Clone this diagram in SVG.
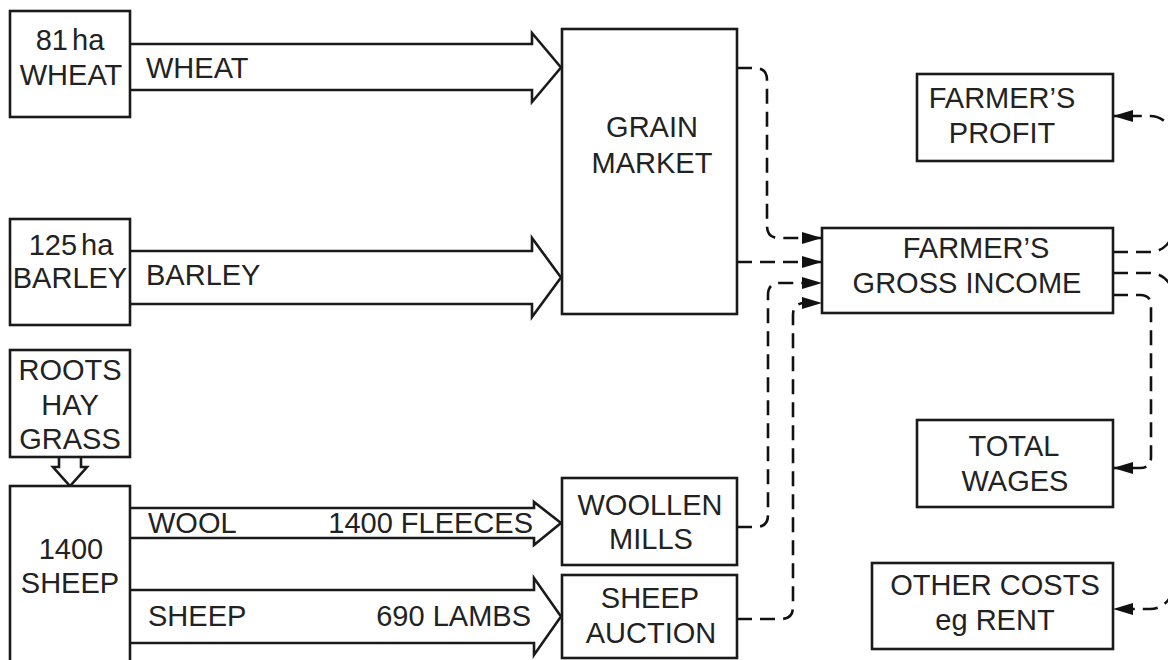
<svg xmlns="http://www.w3.org/2000/svg" width="1168" height="660" viewBox="0 0 1168 660">
<defs>
<style>
.box{fill:#fff;stroke:#1a1a1a;stroke-width:2.6}
.flow{fill:#fff;stroke:#1a1a1a;stroke-width:2.6;stroke-linejoin:miter}
.t{font-family:"Liberation Sans",Arial,sans-serif;font-size:29px;fill:#222}
.c{text-anchor:middle}
.e{text-anchor:end}
.ns{word-spacing:-4px}
.dash{fill:none;stroke:#111;stroke-width:2.6;stroke-dasharray:15 8}
</style>
<marker id="ah" markerUnits="userSpaceOnUse" markerWidth="20" markerHeight="12" refX="20" refY="6" orient="auto">
<path d="M0,0 L20,6 L0,12 Z" fill="#111"/>
</marker>
</defs>
<rect width="1168" height="660" fill="#fff"/>

<g id="connectors">
<path class="flow" d="M130,44 H532 V33 L561,67.5 L532,102 V90 H130"/>
<path class="flow" d="M130,251 H532 V238 L561,277.5 L532,317 V304 H130"/>
<path class="flow" d="M130,508 H534 V502 L561,523 L534,545 V538 H130"/>
<path class="flow" d="M130,590 H534 V578 L561,616.5 L534,655 V643 H130"/>
<path class="flow" d="M59,457 V467 H53 L70,486 L87,467 H81 V457"/>
<path class="dash" marker-end="url(#ah)" d="M737,68 H755 Q767,68 767,80 V226 Q767,238 779,238 H822"/>
<path class="dash" marker-end="url(#ah)" d="M737,262 H822"/>
<path class="dash" marker-end="url(#ah)" d="M737,527 H756 Q768,527 768,515 V295 Q768,283 780,283 H822"/>
<path class="dash" marker-end="url(#ah)" d="M737,619 H781 Q793,619 793,607 V315 Q793,303 805,303 H822"/>
<path class="dash" marker-end="url(#ah)" d="M1113,252 H1150 A23,23 0 0 0 1173,229 V139 A23,23 0 0 0 1150,116 H1113"/>
<path class="dash" marker-end="url(#ah)" d="M1113,273 H1150 A23,23 0 0 1 1173,296 V586 A23,23 0 0 1 1150,609 H1113"/>
<path class="dash" marker-end="url(#ah)" d="M1113,295 H1140 Q1151,295 1151,306 V457 Q1151,468 1140,468 H1113"/>
</g>

<g id="wheat">
<rect class="box" x="10" y="11" width="120" height="106"/>
<text class="t c ns" x="70" y="50">81 ha</text>
<text class="t c" x="71" y="85">WHEAT</text>
</g>
<g id="barley">
<rect class="box" x="10" y="219" width="120" height="106"/>
<text class="t c ns" x="71" y="255">125 ha</text>
<text class="t c" x="70" y="288">BARLEY</text>
</g>
<g id="roots">
<rect class="box" x="10" y="350" width="120" height="107"/>
<text class="t c" x="70" y="380">ROOTS</text>
<text class="t c" x="70" y="415">HAY</text>
<text class="t c" x="70" y="449">GRASS</text>
</g>
<g id="sheep">
<rect class="box" x="10" y="486" width="120" height="180"/>
<text class="t c" x="71" y="559">1400</text>
<text class="t c" x="70" y="593">SHEEP</text>
</g>
<g id="labels">
<text class="t" x="146" y="78">WHEAT</text>
<text class="t" x="146" y="285">BARLEY</text>
<text class="t" x="148" y="533">WOOL</text>
<text class="t e" x="533" y="533">1400 FLEECES</text>
<text class="t" x="148" y="626">SHEEP</text>
<text class="t e" x="531" y="626">690 LAMBS</text>
</g>
<g id="grain">
<rect class="box" x="562" y="29" width="175" height="285"/>
<text class="t c" x="652" y="137">GRAIN</text>
<text class="t c" x="652" y="173">MARKET</text>
</g>
<g id="woollen">
<rect class="box" x="562" y="478" width="175" height="87"/>
<text class="t c" x="650" y="515">WOOLLEN</text>
<text class="t c" x="651" y="549">MILLS</text>
</g>
<g id="auction">
<rect class="box" x="562" y="575" width="175" height="83"/>
<text class="t c" x="650" y="608">SHEEP</text>
<text class="t c" x="651" y="643">AUCTION</text>
</g>
<g id="profit">
<rect class="box" x="917" y="74" width="196" height="87"/>
<text class="t c" x="1002" y="108">FARMER’S</text>
<text class="t c" x="1002" y="143">PROFIT</text>
</g>
<g id="gross">
<rect class="box" x="822" y="228" width="291" height="85"/>
<text class="t c" x="976" y="258">FARMER’S</text>
<text class="t c" x="967" y="293">GROSS INCOME</text>
</g>
<g id="wages">
<rect class="box" x="917" y="420" width="196" height="87"/>
<text class="t c" x="1014" y="456">TOTAL</text>
<text class="t c" x="1015" y="491">WAGES</text>
</g>
<g id="other">
<rect class="box" x="872" y="563" width="241" height="86"/>
<text class="t c" x="995" y="595">OTHER COSTS</text>
<text class="t c" x="995" y="630">eg RENT</text>
</g>
</svg>
